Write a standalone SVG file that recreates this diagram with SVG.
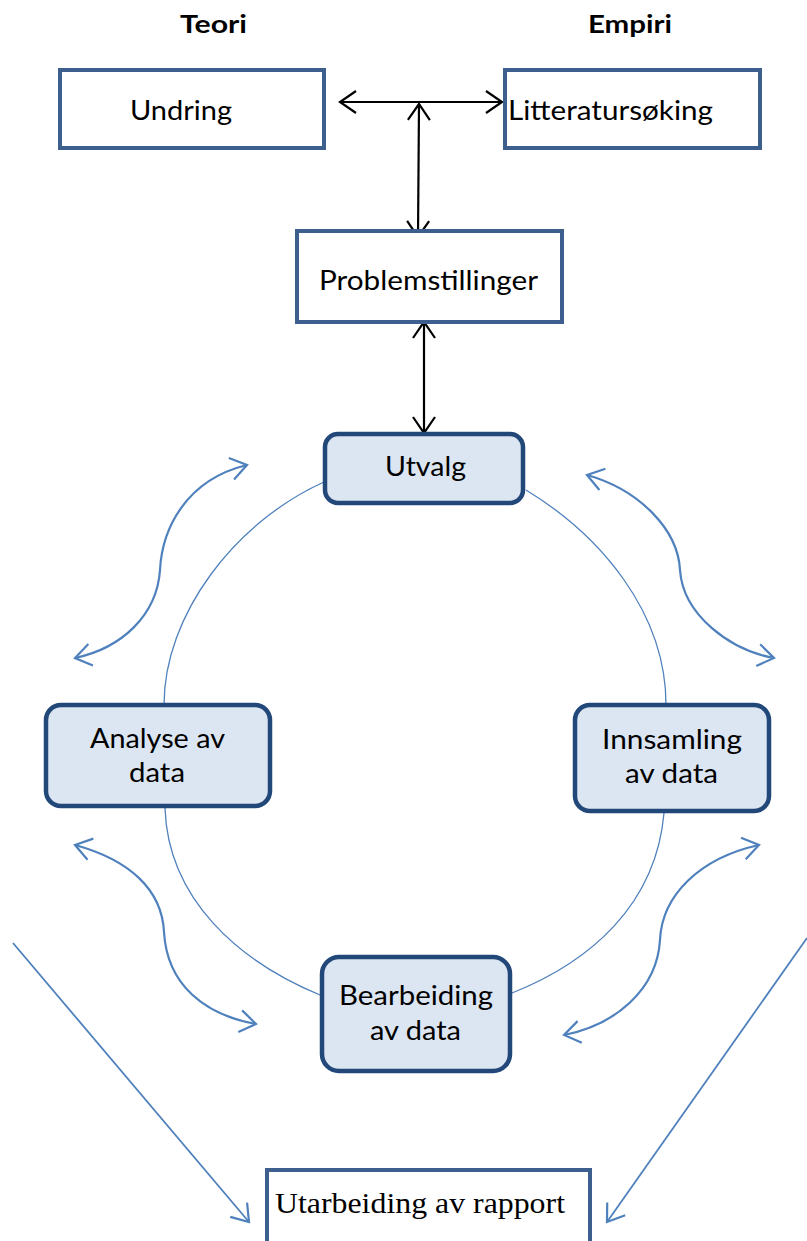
<svg xmlns="http://www.w3.org/2000/svg" width="807" height="1241" viewBox="0 0 807 1241">
<style>
.lbl{font-family:Lato,"Open Sans",sans-serif;font-size:27px;fill:#000;text-anchor:start}
.hdr{font-family:Lato,"Open Sans",sans-serif;font-size:25px;font-weight:bold;fill:#000}
.sq{fill:#fff;stroke:#3d5f8e;stroke-width:4}
.rd{fill:#dce6f2;stroke:#22487a;stroke-width:4.5}
.ell{fill:none;stroke:#4f81bd;stroke-width:1.3}
.cv{fill:none;stroke:#4f81bd;stroke-width:2.2}
.st{fill:none;stroke:#4f81bd;stroke-width:1.8}
.bk{fill:none;stroke:#000;stroke-width:2.2}
</style>
<defs>
<marker id="ab" markerUnits="userSpaceOnUse" markerWidth="24" markerHeight="24" viewBox="0 0 24 24" refX="20" refY="12" orient="auto-start-reverse">
<path d="M4,1 L20,12 L4,23" fill="none" stroke="#000" stroke-width="2.2"/>
</marker>
<marker id="au" markerUnits="userSpaceOnUse" markerWidth="24" markerHeight="24" viewBox="0 0 24 24" refX="20" refY="12" orient="auto-start-reverse">
<path d="M4,1 L20,12 L4,23" fill="none" stroke="#4f81bd" stroke-width="2.2"/>
</marker>
</defs>

<g id="connectors">
<path class="ell" d="M324,482 C235,522 164,615 164,705"/>
<path class="ell" d="M526,490 C600,535 666,612 666,705"/>
<path class="ell" d="M165,808 C168,900 240,962 320,995"/>
<path class="ell" d="M664,813 C656,905 590,962 512,993"/>
<path class="cv" marker-start="url(#au)" marker-end="url(#au)" d="M247,465 C185,480 162,530 160,570 C157,615 122,648 75,658"/>
<path class="cv" marker-start="url(#au)" marker-end="url(#au)" d="M587,475 C640,490 678,530 680,570 C683,615 730,650 774,658"/>
<path class="cv" marker-start="url(#au)" marker-end="url(#au)" d="M75,845 C130,860 162,890 164,932 C167,985 205,1015 256,1024"/>
<path class="cv" marker-start="url(#au)" marker-end="url(#au)" d="M759,845 C700,858 662,895 660,940 C657,990 615,1025 564,1035"/>
<line class="st" marker-end="url(#au)" x1="13" y1="943" x2="249" y2="1222"/>
<line class="st" marker-end="url(#au)" x1="807" y1="938" x2="607" y2="1222"/>
<line class="bk" marker-start="url(#ab)" marker-end="url(#ab)" x1="340" y1="102" x2="502" y2="102"/>
<line class="bk" marker-start="url(#ab)" marker-end="url(#ab)" x1="419" y1="104" x2="418" y2="237"/>
<line class="bk" marker-start="url(#ab)" marker-end="url(#ab)" x1="424" y1="322" x2="424" y2="433"/>
</g>

<g id="teori"><text class="hdr" x="180" y="33" textLength="67" lengthAdjust="spacingAndGlyphs">Teori</text></g>
<g id="empiri"><text class="hdr" x="588" y="33" textLength="84" lengthAdjust="spacingAndGlyphs">Empiri</text></g>

<g id="undring">
<rect class="sq" x="60" y="70" width="264" height="78"/>
<text class="lbl" x="130" y="120" textLength="102" lengthAdjust="spacingAndGlyphs">Undring</text>
</g>
<g id="litteratursoking">
<rect class="sq" x="505" y="70" width="255" height="78"/>
<text class="lbl" x="508" y="120" textLength="205" lengthAdjust="spacingAndGlyphs">Litteratursøking</text>
</g>
<g id="problemstillinger">
<rect class="sq" x="297" y="231" width="265" height="91"/>
<text class="lbl" x="319" y="290" textLength="219" lengthAdjust="spacingAndGlyphs">Problemstillinger</text>
</g>
<g id="utvalg">
<rect class="rd" x="325" y="434" width="198" height="69" rx="13"/>
<text class="lbl" x="385" y="476" textLength="81" lengthAdjust="spacingAndGlyphs">Utvalg</text>
</g>
<g id="analyse">
<rect class="rd" x="46" y="705" width="224" height="101" rx="15"/>
<text class="lbl" x="90" y="748" textLength="135" lengthAdjust="spacingAndGlyphs">Analyse av</text>
<text class="lbl" x="129" y="782" textLength="56" lengthAdjust="spacingAndGlyphs">data</text>
</g>
<g id="innsamling">
<rect class="rd" x="575" y="705" width="194" height="106" rx="15"/>
<text class="lbl" x="602" y="749" textLength="140" lengthAdjust="spacingAndGlyphs">Innsamling</text>
<text class="lbl" x="625" y="783" textLength="93" lengthAdjust="spacingAndGlyphs">av data</text>
</g>
<g id="bearbeiding">
<rect class="rd" x="322" y="957" width="188" height="114" rx="17"/>
<text class="lbl" x="339" y="1005" textLength="154" lengthAdjust="spacingAndGlyphs">Bearbeiding</text>
<text class="lbl" x="370" y="1040" textLength="91" lengthAdjust="spacingAndGlyphs">av data</text>
</g>
<g id="utarbeiding">
<rect class="sq" x="267" y="1170" width="323" height="80"/>
<text x="275" y="1213" textLength="290" lengthAdjust="spacingAndGlyphs" style="font-family:'Liberation Serif',serif;font-size:29px;fill:#000">Utarbeiding av rapport</text>
</g>
</svg>
